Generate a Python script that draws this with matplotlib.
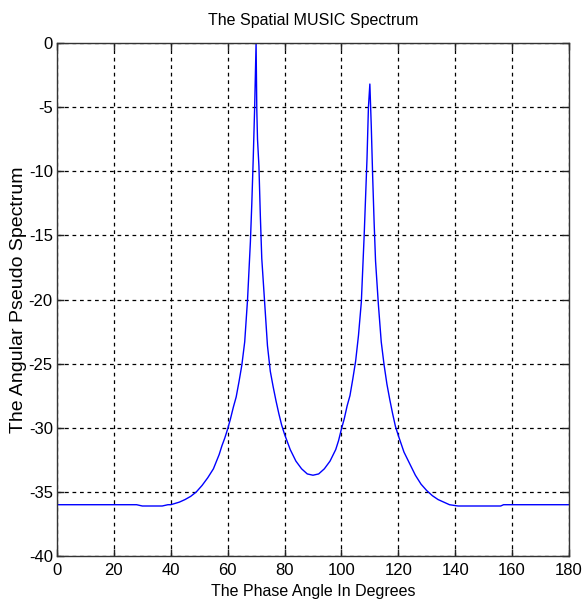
import matplotlib
matplotlib.use("Agg")
import matplotlib.pyplot as plt

# phase angle (degrees) and pseudo spectrum (dB)
angle = [0, 10, 20, 28, 30, 37, 39, 40, 43, 45, 47, 49, 51, 53, 55, 57, 58, 59,
         60, 61, 62, 63, 64, 65, 66, 67, 68, 68.5, 69, 69.5, 70, 70.25, 70.5,
         71, 71.5, 72, 73, 74, 75, 76, 77, 78, 79, 80, 82, 84, 86, 88, 90, 92,
         94, 96, 98, 99, 100, 101, 102, 103, 104, 105, 106, 107, 108, 108.5,
         109, 109.5, 110, 110.5, 111, 111.5, 112, 113, 114, 115, 116, 117, 118,
         119, 120, 122, 124, 126, 128, 130, 132, 134, 136, 138, 141, 156, 157,
         170, 180]
spectrum = [-36.0, -36.0, -36.0, -36.0, -36.1, -36.1, -36.0, -36.0, -35.8, -35.6,
            -35.35, -35.0, -34.5, -33.9, -33.2, -32.1, -31.4, -30.8,
            -30.1, -29.3, -28.4, -27.6, -26.4, -25.1, -23.3, -20.0, -15.5, -12.5,
            -9.0, -5.0, 0.0, -5.2, -7.5,
            -9.6, -13.5, -16.8, -20.2, -23.6, -25.6, -26.8, -27.9, -28.9, -29.8,
            -30.5, -31.7, -32.6, -33.2, -33.6, -33.7, -33.6,
            -33.2, -32.6, -31.7, -31.0, -30.1, -29.3, -28.3, -27.5, -26.2, -24.8,
            -22.8, -20.2, -15.0, -12.0,
            -9.0, -5.0, -3.2, -6.5, -10.5, -14.0, -17.0, -20.4, -23.3, -25.1,
            -26.6, -27.8, -28.9,
            -29.9, -30.6, -31.9, -32.8, -33.7, -34.4, -34.9, -35.3, -35.6, -35.8,
            -36.0, -36.1, -36.1, -36.0,
            -36.0, -36.0]

xticks = list(range(0, 181, 20))
yticks = list(range(-40, 1, 5))

plt.rcParams['font.family'] = ['Liberation Sans', 'DejaVu Sans']
plt.rcParams['axes.unicode_minus'] = False

fig = plt.figure(figsize=(5.82, 6.09), dpi=100)
ax = fig.add_axes([0.0979, 0.087, 0.8797, 0.8424])

ax.plot(angle, spectrum, color='#0000ff', linewidth=1.0)

ax.set_xlim(0, 180)
ax.set_ylim(-40, 0)
ax.set_xticks(xticks)
ax.set_yticks(yticks)
ax.tick_params(direction='in', length=5, width=1, top=True, right=True,
               labelsize=12, colors='#222222', labelcolor='black')
ax.tick_params(axis='x', pad=5)
ax.tick_params(axis='y', pad=3)
ax.grid(True, color='black', linestyle=(0, (3, 3)), linewidth=0.9)
for s in ax.spines.values():
    s.set_color('#333333')
    s.set_linewidth(1.0)

ax.set_title("The Spatial MUSIC Spectrum", fontsize=11.5, pad=13)
ax.set_xlabel("The Phase Angle In Degrees", fontsize=11.5, labelpad=4)
ax.set_ylabel("The Angular Pseudo Spectrum", fontsize=14, labelpad=1)

fig.savefig("out.png", dpi=100)
